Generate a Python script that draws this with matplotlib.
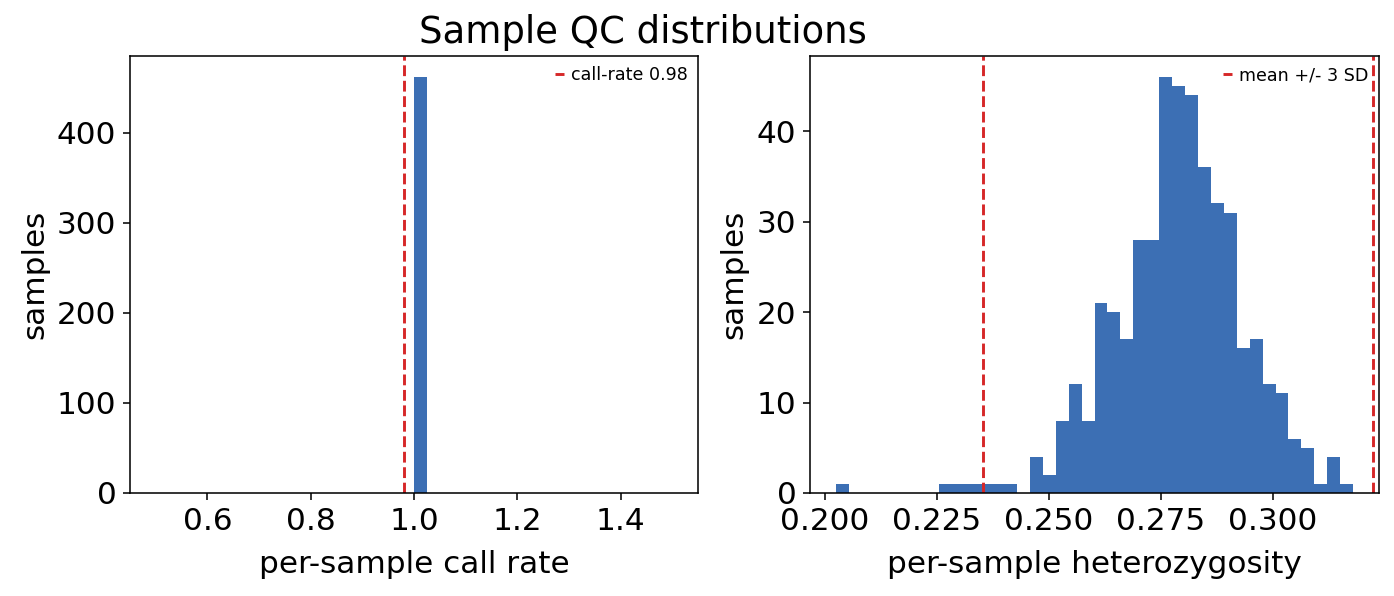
import numpy as np
import matplotlib
matplotlib.use("Agg")
import matplotlib.pyplot as plt
from matplotlib.ticker import MultipleLocator

# per-sample call rate: every sample sits at 1.0
call_rate_values = [1.0]
call_rate_counts = [462]
call_rate_cutoff = 0.98

# per-sample heterozygosity histogram (40 bins between min and max)
het_min = 0.2024
het_max = 0.3179
het_counts = [1, 0, 0, 0, 0, 0, 0, 0, 1, 1, 1, 1, 1, 1, 0, 4, 2, 8, 12, 8,
              21, 20, 17, 28, 28, 46, 45, 44, 36, 32, 31, 16, 17, 12, 11, 6, 5, 1, 4, 1]
het_mean = 0.2788
het_sd = 0.01453

bar_color = "#3c6fb4"
line_color = "#d62728"

fig = plt.figure(figsize=(1394 / 140, 596 / 140), dpi=140)
ax1 = fig.add_axes([130 / 1394, 103 / 596, 568 / 1394, 437 / 596])
ax2 = fig.add_axes([810 / 1394, 103 / 596, 569 / 1394, 437 / 596])

# left: call rate
ax1.hist(call_rate_values, bins=40, weights=call_rate_counts, color=bar_color)
ax1.axvline(call_rate_cutoff, color=line_color, ls="--", lw=1.5,
            label=f"call-rate {call_rate_cutoff}")
ax1.set_xlabel("per-sample call rate", fontsize=16, labelpad=7.5)
ax1.set_ylabel("samples", fontsize=16)

# right: heterozygosity
edges = np.linspace(het_min, het_max, len(het_counts) + 1)
ax2.hist(edges[:-1], bins=edges, weights=het_counts, color=bar_color)
ax2.axvline(het_mean - 3 * het_sd, color=line_color, ls="--", lw=1.5,
            label="mean +/- 3 SD")
ax2.axvline(het_mean + 3 * het_sd, color=line_color, ls="--", lw=1.5)
ax2.xaxis.set_major_locator(MultipleLocator(0.025))
ax2.set_xlabel("per-sample heterozygosity", fontsize=16, labelpad=7.5)
ax2.set_ylabel("samples", fontsize=16)

for ax in (ax1, ax2):
    ax.tick_params(labelsize=16)
    ax.legend(loc="upper right", frameon=False, fontsize=9,
              handlelength=0.5, handletextpad=0.4, borderaxespad=0.2)

fig.text(643 / 1394, 553 / 596, "Sample QC distributions",
         ha="center", va="baseline", fontsize=19)

fig.savefig("out.png", dpi=140)
